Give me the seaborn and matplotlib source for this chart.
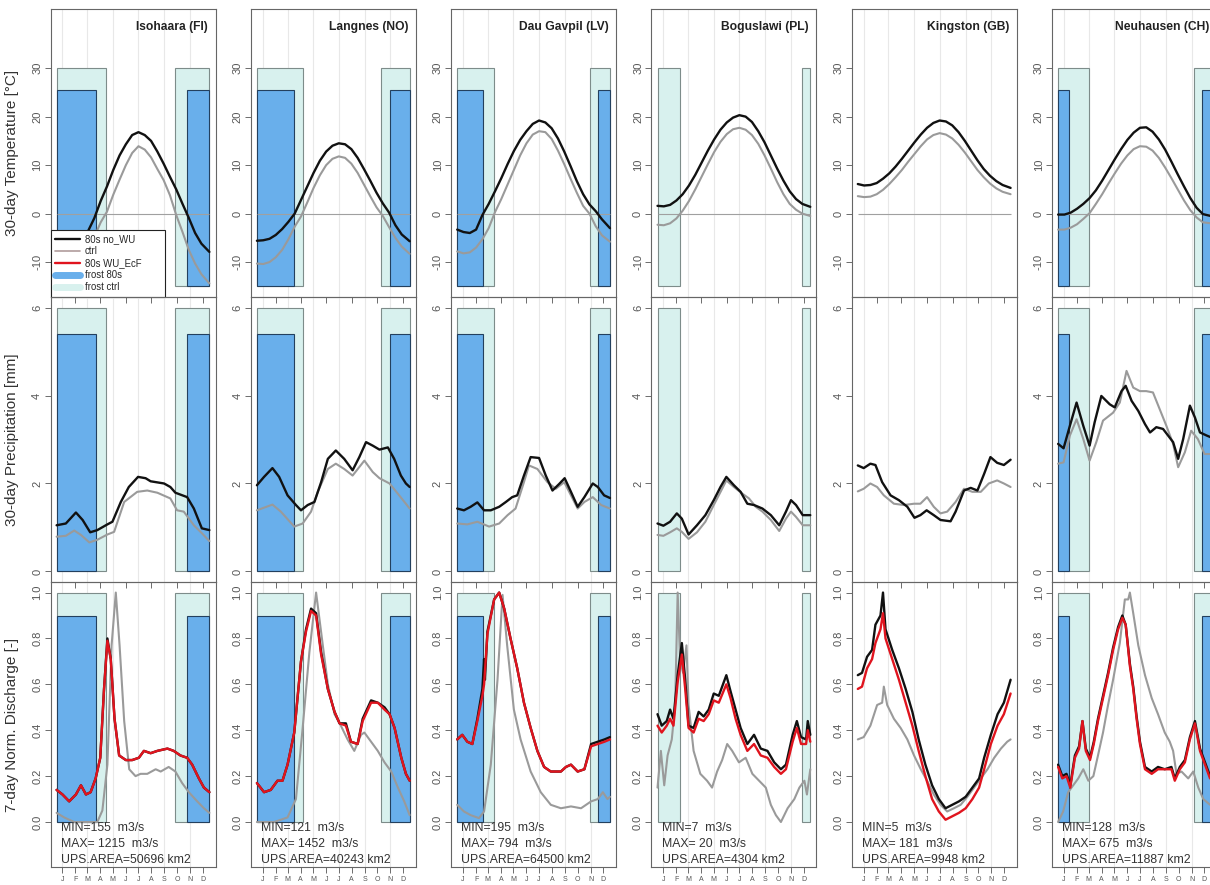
import numpy as np
import pandas as pd
import matplotlib
matplotlib.use('Agg')
import matplotlib.pyplot as plt
import seaborn as sns
from matplotlib.lines import Line2D

sns.set_style('white')
plt.rcParams['font.family'] = ['Liberation Sans', 'DejaVu Sans']

# ---- data ----
STATIONS = ['Isohaara (FI)', 'Langnes (NO)', 'Dau Gavpil (LV)',
            'Boguslawi (PL)', 'Kingston (GB)', 'Neuhausen (CH)']
Q_MIN = [155, 121, 195, 7, 5, 128]
Q_MAX = [1215, 1452, 794, 20, 181, 675]
UPS_AREA = [50696, 40243, 64500, 4304, 9948, 11887]

# frost periods: (end of winter frost, start of autumn frost) in day of year
FROST_CTRL = [(118, 284), (111, 297), (88, 317), (55, 346), None, (75, 324)]
FROST_80S = [(96, 312), (90, 318), (63, 336), None, None, (26, 345)]

MONTH_MID = [15, 46, 74, 105, 135, 166, 196, 227, 258, 288, 319, 349]
MONTH_LBL = ['J', 'F', 'M', 'A', 'M', 'J', 'J', 'A', 'S', 'O', 'N', 'D']
GRID_DAYS = [15, 74, 135, 196, 258, 319]

TEMP_DAYS = [1, 16, 31, 46, 61, 76, 91, 106, 121, 136, 151, 166, 181, 196,
             211, 226, 241, 256, 271, 286, 301, 316, 331, 346, 365]
TEMP_NOWU = [
    [-9.5, -10.5, -11.0, -10.5, -8.0, -3.6, -0.9, 2.6, 5.6, 9.0, 12.0, 14.3, 16.2, 16.8, 16.2, 15.0, 12.8, 10.3, 7.6, 5.0, 2.0, -0.9, -4.0, -6.2, -7.9],
    [-5.6, -5.5, -5.2, -4.4, -3.2, -1.7, 0.0, 2.8, 5.6, 8.4, 10.9, 12.8, 14.0, 14.5, 14.3, 13.3, 11.5, 9.2, 6.8, 4.3, 2.1, 0.2, -2.4, -4.3, -5.7],
    [-3.3, -3.8, -4.0, -3.3, -0.3, 2.0, 4.6, 7.3, 10.2, 12.9, 15.2, 17.0, 18.5, 19.2, 18.8, 17.6, 15.5, 12.8, 9.8, 6.7, 4.0, 1.9, 0.5, -1.2, -3.0],
    [1.6, 1.5, 1.8, 2.7, 4.0, 5.8, 8.0, 10.5, 13.0, 15.3, 17.3, 18.8, 19.8, 20.3, 20.0, 18.9, 17.0, 14.7, 12.0, 9.3, 6.8, 4.6, 3.0, 2.0, 1.4],
    [6.1, 5.8, 5.9, 6.3, 7.2, 8.3, 9.7, 11.3, 13.0, 14.7, 16.3, 17.7, 18.7, 19.2, 19.0, 18.2, 16.8, 15.0, 13.0, 11.0, 9.2, 7.8, 6.7, 5.9, 5.3],
    [-0.2, -0.2, 0.2, 1.0, 2.0, 3.2, 4.8, 6.8, 9.0, 11.2, 13.3, 15.2, 16.7, 17.7, 17.8, 16.9, 15.3, 13.2, 10.7, 8.1, 5.6, 3.2, 1.2, -0.1, -0.5],
]
TEMP_CTRL = [
    [-14.0, -15.0, -15.5, -14.5, -12.0, -8.5, -4.8, -1.8, 0.4, 3.9, 7.0, 10.0, 12.5, 13.9, 13.2, 11.6, 9.2, 6.9, 3.8, -0.3, -3.8, -7.5, -10.3, -12.5, -14.4],
    [-10.3, -10.4, -10.0, -9.0, -7.5, -5.3, -2.7, -0.6, 2.3, 5.3, 7.9, 10.0, 11.3, 11.8, 11.5, 10.3, 8.4, 6.0, 3.6, 1.3, -0.5, -2.8, -5.0, -6.8, -8.3],
    [-7.8, -8.2, -8.0, -7.0, -5.3, -3.0, 0.3, 3.0, 6.0, 9.0, 12.0, 14.5, 16.3, 17.0, 16.8, 15.4, 13.0, 10.2, 7.2, 4.3, 1.6, 0.0, -2.6, -4.5, -5.8],
    [-2.3, -2.4, -2.0, -1.0, 0.6, 2.6, 5.0, 7.6, 10.2, 12.7, 14.8, 16.4, 17.4, 17.7, 17.3, 16.2, 14.4, 12.0, 9.3, 6.5, 4.0, 2.0, 0.8, 0.0, -0.5],
    [3.6, 3.4, 3.5, 4.0, 4.9, 6.1, 7.5, 9.0, 10.7, 12.3, 13.9, 15.3, 16.2, 16.6, 16.3, 15.5, 14.2, 12.6, 10.8, 9.0, 7.5, 6.2, 5.2, 4.5, 4.0],
    [-3.3, -3.3, -2.9, -2.2, -1.1, 0.1, 2.0, 4.0, 6.2, 8.3, 10.3, 12.0, 13.3, 13.9, 13.8, 13.0, 11.5, 9.5, 7.3, 5.0, 2.7, 0.7, -0.8, -1.8, -2.0],
]

# precipitation (day, mm)
PREC_NOWU = [
    [(1, 1.05), (23, 1.09), (47, 1.34), (63, 1.17), (81, 0.89), (98, 0.94), (122, 1.07), (134, 1.13), (154, 1.58), (173, 1.92), (195, 2.15), (213, 2.12), (225, 2.05), (257, 2.0), (272, 1.92), (284, 1.79), (312, 1.69), (328, 1.43), (347, 0.98), (365, 0.94)],
    [(1, 1.96), (18, 2.15), (38, 2.35), (54, 2.15), (74, 1.73), (94, 1.51), (106, 1.39), (122, 1.51), (138, 1.58), (154, 2.03), (170, 2.56), (189, 2.75), (209, 2.56), (229, 2.3), (245, 2.6), (261, 2.94), (277, 2.86), (293, 2.77), (313, 2.82), (328, 2.56), (344, 2.18), (356, 2.0), (365, 1.92)],
    [(1, 1.43), (17, 1.39), (33, 1.47), (49, 1.57), (65, 1.39), (81, 1.39), (101, 1.47), (117, 1.58), (132, 1.69), (144, 1.73), (160, 2.18), (176, 2.6), (196, 2.58), (212, 2.18), (228, 1.84), (244, 1.99), (257, 2.12), (272, 1.81), (288, 1.47), (304, 1.69), (324, 2.0), (336, 1.92), (351, 1.73), (365, 1.67)],
    [(1, 1.09), (15, 1.04), (31, 1.13), (47, 1.32), (59, 1.2), (75, 0.84), (95, 1.05), (115, 1.28), (135, 1.62), (151, 1.92), (165, 2.15), (183, 1.96), (199, 1.81), (215, 1.54), (231, 1.51), (251, 1.43), (271, 1.28), (291, 1.05), (307, 1.36), (319, 1.62), (331, 1.51), (347, 1.28), (365, 1.28)],
    [(1, 2.41), (15, 2.35), (31, 2.45), (43, 2.42), (59, 2.03), (79, 1.73), (99, 1.62), (119, 1.47), (136, 1.22), (150, 1.28), (165, 1.39), (182, 1.28), (198, 1.17), (222, 1.14), (234, 1.36), (254, 1.84), (270, 1.9), (286, 1.84), (302, 2.22), (317, 2.6), (333, 2.47), (349, 2.42), (365, 2.54)],
    [(1, 2.9), (14, 2.8), (29, 3.31), (45, 3.84), (61, 3.31), (76, 2.86), (88, 3.39), (104, 3.99), (124, 3.8), (136, 3.73), (152, 4.1), (162, 4.22), (176, 3.88), (192, 3.65), (208, 3.35), (220, 3.16), (235, 3.28), (251, 3.24), (263, 3.09), (275, 2.94), (287, 2.56), (299, 3.01), (315, 3.77), (327, 3.5), (339, 3.16), (355, 3.09), (365, 3.05)],
]
PREC_CTRL = [
    [(1, 0.79), (23, 0.81), (43, 0.93), (59, 0.83), (79, 0.66), (98, 0.72), (122, 0.84), (138, 0.9), (162, 1.58), (193, 1.81), (217, 1.84), (241, 1.79), (272, 1.66), (288, 1.39), (304, 1.36), (328, 1.05), (347, 0.87), (365, 0.69)],
    [(1, 1.39), (18, 1.45), (38, 1.52), (58, 1.36), (90, 1.02), (110, 1.09), (130, 1.36), (146, 1.81), (170, 2.33), (189, 2.45), (209, 2.33), (229, 2.18), (257, 2.52), (277, 2.26), (293, 2.12), (317, 2.0), (340, 1.73), (365, 1.43)],
    [(1, 1.09), (25, 1.07), (49, 1.13), (77, 1.02), (101, 1.09), (121, 1.28), (140, 1.43), (160, 2.03), (172, 2.41), (192, 2.33), (216, 2.03), (236, 1.88), (256, 2.03), (272, 1.73), (288, 1.43), (304, 1.58), (324, 1.69), (344, 1.51), (365, 1.43)],
    [(1, 0.83), (15, 0.81), (31, 0.89), (47, 0.98), (59, 0.9), (75, 0.74), (95, 0.89), (115, 1.13), (135, 1.51), (155, 1.88), (165, 2.07), (183, 1.92), (203, 1.77), (219, 1.66), (235, 1.47), (251, 1.36), (271, 1.17), (291, 0.92), (307, 1.2), (319, 1.36), (331, 1.24), (347, 1.05), (365, 1.05)],
    [(1, 1.82), (15, 1.88), (31, 2.0), (47, 1.92), (63, 1.73), (87, 1.54), (111, 1.51), (135, 1.54), (150, 1.54), (166, 1.69), (182, 1.47), (198, 1.32), (214, 1.36), (234, 1.58), (254, 1.88), (274, 1.81), (294, 1.81), (313, 2.0), (333, 2.07), (349, 2.0), (365, 1.92)],
    [(1, 2.45), (14, 2.48), (29, 3.09), (45, 3.46), (61, 3.01), (76, 2.52), (92, 2.94), (108, 3.43), (132, 3.61), (148, 3.84), (164, 4.56), (180, 4.18), (196, 4.1), (211, 4.1), (227, 4.07), (243, 3.69), (259, 3.31), (275, 2.9), (287, 2.37), (303, 2.71), (318, 3.2), (334, 3.01), (350, 2.67), (365, 2.67)],
]

# normalised 7-day discharge (day, value)
DIS_NOWU = [
    [(1, 0.14), (15, 0.12), (31, 0.09), (47, 0.12), (59, 0.16), (71, 0.12), (82, 0.13), (94, 0.19), (105, 0.28), (114, 0.58), (122, 0.80), (130, 0.71), (139, 0.45), (150, 0.29), (166, 0.27), (181, 0.27), (197, 0.28), (209, 0.31), (225, 0.30), (241, 0.31), (265, 0.32), (280, 0.31), (296, 0.29), (312, 0.28), (324, 0.25), (340, 0.19), (352, 0.15), (365, 0.13)],
    [(1, 0.17), (18, 0.13), (34, 0.14), (50, 0.18), (62, 0.18), (74, 0.25), (90, 0.39), (106, 0.70), (118, 0.84), (130, 0.93), (142, 0.91), (154, 0.74), (170, 0.58), (186, 0.48), (198, 0.43), (213, 0.43), (225, 0.35), (241, 0.34), (253, 0.45), (273, 0.53), (289, 0.52), (305, 0.50), (317, 0.47), (329, 0.41), (345, 0.28), (356, 0.21), (365, 0.18)],
    [(1, 0.36), (13, 0.38), (25, 0.35), (37, 0.34), (49, 0.45), (61, 0.58), (65, 0.71), (67, 0.62), (73, 0.83), (89, 0.97), (101, 1.0), (113, 0.93), (128, 0.80), (144, 0.67), (160, 0.52), (176, 0.41), (192, 0.31), (208, 0.24), (224, 0.22), (248, 0.22), (260, 0.24), (272, 0.25), (288, 0.22), (304, 0.23), (320, 0.34), (336, 0.35), (352, 0.36), (365, 0.37)],
    [(1, 0.47), (11, 0.42), (23, 0.44), (31, 0.49), (39, 0.45), (49, 0.64), (59, 0.78), (67, 0.62), (75, 0.42), (87, 0.41), (99, 0.48), (111, 0.46), (123, 0.49), (135, 0.56), (147, 0.55), (165, 0.64), (175, 0.57), (187, 0.49), (199, 0.41), (215, 0.34), (231, 0.38), (247, 0.32), (263, 0.31), (279, 0.26), (295, 0.23), (307, 0.25), (323, 0.38), (333, 0.44), (343, 0.37), (355, 0.36), (359, 0.44), (365, 0.38)],
    [(1, 0.64), (11, 0.65), (23, 0.72), (35, 0.75), (43, 0.86), (55, 0.90), (61, 1.0), (67, 0.84), (83, 0.75), (99, 0.67), (115, 0.58), (131, 0.48), (146, 0.36), (162, 0.25), (178, 0.16), (194, 0.10), (210, 0.06), (226, 0.075), (242, 0.09), (258, 0.11), (274, 0.15), (290, 0.19), (302, 0.28), (318, 0.38), (334, 0.47), (349, 0.52), (365, 0.62)],
    [(1, 0.25), (11, 0.20), (21, 0.21), (30, 0.16), (41, 0.29), (51, 0.33), (59, 0.44), (67, 0.32), (77, 0.28), (86, 0.35), (96, 0.45), (108, 0.55), (120, 0.65), (132, 0.76), (144, 0.85), (154, 0.90), (162, 0.86), (172, 0.69), (180, 0.59), (188, 0.46), (196, 0.35), (208, 0.24), (224, 0.22), (239, 0.24), (255, 0.23), (271, 0.24), (279, 0.19), (291, 0.24), (303, 0.27), (315, 0.37), (327, 0.44), (339, 0.32), (351, 0.26), (363, 0.20)],
]
DIS_WU = [
    [(1, 0.14), (15, 0.12), (31, 0.09), (47, 0.12), (59, 0.16), (71, 0.12), (82, 0.13), (94, 0.19), (105, 0.28), (114, 0.58), (122, 0.79), (130, 0.71), (139, 0.45), (150, 0.29), (166, 0.27), (181, 0.27), (197, 0.28), (209, 0.31), (225, 0.30), (241, 0.31), (265, 0.32), (280, 0.31), (296, 0.29), (312, 0.28), (324, 0.25), (340, 0.19), (352, 0.15), (365, 0.13)],
    [(1, 0.17), (18, 0.13), (34, 0.14), (50, 0.18), (62, 0.18), (74, 0.25), (90, 0.39), (106, 0.70), (118, 0.83), (130, 0.92), (142, 0.90), (154, 0.73), (170, 0.58), (186, 0.48), (198, 0.43), (213, 0.42), (225, 0.35), (241, 0.34), (253, 0.44), (273, 0.52), (289, 0.52), (305, 0.49), (317, 0.47), (329, 0.41), (345, 0.28), (356, 0.21), (365, 0.18)],
    [(1, 0.36), (13, 0.38), (25, 0.35), (37, 0.34), (49, 0.44), (61, 0.55), (65, 0.60), (73, 0.82), (89, 0.97), (101, 1.0), (113, 0.93), (128, 0.80), (144, 0.67), (160, 0.52), (176, 0.41), (192, 0.31), (208, 0.24), (224, 0.22), (248, 0.22), (260, 0.24), (272, 0.25), (288, 0.22), (304, 0.23), (320, 0.33), (336, 0.34), (352, 0.35), (365, 0.36)],
    [(1, 0.42), (11, 0.39), (23, 0.42), (31, 0.45), (39, 0.42), (49, 0.61), (59, 0.73), (67, 0.58), (75, 0.41), (87, 0.39), (99, 0.45), (111, 0.44), (123, 0.47), (135, 0.53), (147, 0.52), (165, 0.60), (175, 0.54), (187, 0.45), (199, 0.38), (215, 0.31), (231, 0.34), (247, 0.29), (263, 0.28), (279, 0.24), (295, 0.21), (307, 0.23), (323, 0.35), (333, 0.41), (343, 0.34), (355, 0.34), (359, 0.40), (365, 0.35)],
    [(1, 0.58), (11, 0.59), (23, 0.67), (35, 0.71), (43, 0.78), (55, 0.84), (61, 0.91), (67, 0.80), (83, 0.71), (99, 0.62), (115, 0.52), (131, 0.42), (146, 0.31), (162, 0.20), (178, 0.10), (194, 0.046), (210, 0.01), (226, 0.025), (242, 0.04), (258, 0.06), (274, 0.10), (290, 0.15), (302, 0.23), (318, 0.34), (334, 0.42), (349, 0.47), (365, 0.56)],
    [(1, 0.24), (11, 0.19), (21, 0.20), (30, 0.15), (41, 0.28), (51, 0.32), (59, 0.44), (67, 0.31), (77, 0.27), (86, 0.34), (96, 0.44), (108, 0.54), (120, 0.64), (132, 0.75), (144, 0.84), (154, 0.89), (162, 0.86), (172, 0.68), (180, 0.58), (188, 0.45), (196, 0.34), (208, 0.23), (224, 0.21), (239, 0.23), (255, 0.23), (271, 0.23), (279, 0.18), (291, 0.23), (303, 0.26), (315, 0.36), (327, 0.43), (339, 0.31), (351, 0.25), (363, 0.19)],
]
DIS_CTRL = [
    [(1, 0.04), (19, 0.02), (43, 0.0), (75, 0.0), (98, 0.0), (110, 0.05), (122, 0.25), (132, 0.77), (142, 1.0), (151, 0.77), (162, 0.44), (174, 0.23), (189, 0.20), (201, 0.21), (217, 0.21), (237, 0.23), (249, 0.22), (268, 0.24), (284, 0.22), (300, 0.17), (316, 0.13), (336, 0.09), (352, 0.06), (365, 0.04)],
    [(1, 0.0), (42, 0.0), (74, 0.02), (94, 0.10), (110, 0.41), (126, 0.74), (142, 1.0), (158, 0.77), (170, 0.60), (186, 0.47), (201, 0.42), (217, 0.36), (233, 0.31), (249, 0.38), (257, 0.39), (273, 0.35), (289, 0.31), (305, 0.26), (321, 0.22), (337, 0.15), (352, 0.09), (365, 0.03)],
    [(1, 0.075), (17, 0.046), (33, 0.03), (53, 0.017), (65, 0.046), (81, 0.25), (97, 0.62), (109, 0.99), (120, 0.77), (136, 0.49), (152, 0.36), (176, 0.22), (200, 0.13), (224, 0.075), (248, 0.06), (272, 0.068), (296, 0.06), (320, 0.09), (336, 0.10), (348, 0.13), (359, 0.10), (365, 0.11)],
    [(1, 0.15), (9, 0.31), (17, 0.16), (25, 0.29), (35, 0.36), (43, 0.51), (49, 1.0), (55, 0.70), (62, 0.65), (70, 0.77), (75, 0.51), (87, 0.31), (103, 0.21), (119, 0.18), (131, 0.15), (143, 0.22), (155, 0.27), (167, 0.34), (179, 0.31), (195, 0.26), (211, 0.28), (227, 0.21), (243, 0.18), (259, 0.15), (271, 0.075), (283, 0.03), (295, 0.0), (311, 0.06), (327, 0.10), (339, 0.15), (351, 0.18), (357, 0.12), (365, 0.23)],
    [(1, 0.36), (15, 0.37), (31, 0.42), (47, 0.51), (59, 0.52), (63, 0.59), (71, 0.51), (87, 0.45), (103, 0.41), (119, 0.36), (135, 0.29), (151, 0.23), (166, 0.18), (182, 0.12), (198, 0.075), (214, 0.046), (230, 0.06), (246, 0.075), (262, 0.11), (278, 0.15), (294, 0.19), (310, 0.23), (326, 0.28), (342, 0.32), (357, 0.35), (365, 0.36)],
    [(1, 0.0), (13, 0.046), (25, 0.13), (37, 0.16), (49, 0.19), (61, 0.23), (73, 0.18), (85, 0.20), (96, 0.29), (108, 0.39), (120, 0.51), (132, 0.62), (148, 0.78), (160, 0.97), (168, 0.97), (172, 1.0), (180, 0.91), (192, 0.77), (208, 0.64), (224, 0.54), (239, 0.47), (255, 0.39), (267, 0.35), (275, 0.31), (283, 0.21), (295, 0.22), (311, 0.19), (323, 0.22), (335, 0.15), (347, 0.10), (363, 0.075)],
]

# ---- styling ----
C_NOWU = '#111111'
C_CTRL = '#9a9a9a'
C_WU = '#e0141e'
C_FROST80 = '#69afeb'
C_FROSTCTRL = '#d8f1ee'
TICK_C = '#555555'

ROWS = [
    dict(ylabel='30-day Temperature [\u00b0C]', ylim=(-17.2, 42.2), yticks=[-10, 0, 10, 20, 30],
         fmt='{:g}', bottom=-15, top_ctrl=30, top_80=25.5),
    dict(ylabel='30-day Precipitation [mm]', ylim=(-0.24, 6.24), yticks=[0, 2, 4, 6],
         fmt='{:g}', bottom=0, top_ctrl=6, top_80=5.4),
    dict(ylabel='7-day Norm. Discharge [-]', ylim=(-0.196, 1.046), yticks=[0, 0.2, 0.4, 0.6, 0.8, 1.0],
         fmt='{:.1f}', bottom=0, top_ctrl=1.0, top_80=0.9),
]

W, H = 1210, 885
fig = plt.figure(figsize=(W / 100, H / 100), dpi=100)
fig.patch.set_facecolor('white')

COL_LEFT = [50.5, 250.8, 451.1, 651.4, 851.7, 1052.0]
PANEL_W = 165.0
ROW_TOP = [9, 297, 582]
ROW_BOT = [297, 582, 867]


def draw_line(ax, x, y, color, lw, z):
    sns.lineplot(x=x, y=y, ax=ax, color=color, lw=lw, estimator=None,
                 sort=False, legend=False, zorder=z)


def frost_boxes(ax, period, bottom, top, fc, ec, z):
    if period is None:
        return
    end1, start2 = period
    ax.bar([1, start2], [top - bottom] * 2, width=[end1 - 1, 365 - start2],
           bottom=bottom, align='edge', color=fc, edgecolor=ec, lw=0.8, zorder=z)


for r in range(3):
    cfg = ROWS[r]
    for c in range(6):
        t, b = ROW_TOP[r], ROW_BOT[r]
        ax = fig.add_axes([COL_LEFT[c] / W, 1 - b / H, PANEL_W / W, (b - t) / H])
        ax.set_facecolor('none')
        ax.set_xlim(1 - 14.56, 365 + 14.56)
        ax.set_ylim(*cfg['ylim'])

        for d in GRID_DAYS:
            ax.axvline(d, color='#e8e8e8', lw=0.8, zorder=0)

        frost_boxes(ax, FROST_CTRL[c], cfg['bottom'], cfg['top_ctrl'], C_FROSTCTRL, '#7d8c8a', 1)
        frost_boxes(ax, FROST_80S[c], cfg['bottom'], cfg['top_80'], C_FROST80, '#23405e', 2)

        if r == 0:
            ax.hlines(0, 1, 365, color='#a0a0a0', lw=0.8, zorder=3)
            draw_line(ax, TEMP_DAYS, TEMP_CTRL[c], C_CTRL, 1.5, 4)
            draw_line(ax, TEMP_DAYS, TEMP_NOWU[c], C_NOWU, 1.7, 5)
            ax.text(0.955, 0.937, STATIONS[c], transform=ax.transAxes, ha='right', va='center',
                    fontsize=8.7, fontweight='bold', color='#222222')
        elif r == 1:
            pc = pd.DataFrame(PREC_CTRL[c], columns=['day', 'val'])
            pn = pd.DataFrame(PREC_NOWU[c], columns=['day', 'val'])
            draw_line(ax, pc['day'], pc['val'], C_CTRL, 1.5, 4)
            draw_line(ax, pn['day'], pn['val'], C_NOWU, 1.7, 5)
        else:
            dc = pd.DataFrame(DIS_CTRL[c], columns=['day', 'val'])
            dn = pd.DataFrame(DIS_NOWU[c], columns=['day', 'val'])
            dw = pd.DataFrame(DIS_WU[c], columns=['day', 'val'])
            draw_line(ax, dc['day'], dc['val'], C_CTRL, 1.5, 4)
            draw_line(ax, dn['day'], dn['val'], C_NOWU, 1.7, 5)
            draw_line(ax, dw['day'], dw['val'], C_WU, 1.7, 6)
            txt = [f'MIN={Q_MIN[c]}  m3/s', f'MAX= {Q_MAX[c]}  m3/s', f'UPS.AREA={UPS_AREA[c]} km2']
            for k, s in enumerate(txt):
                ax.text(0.062, 0.137 - 0.057 * k, s, transform=ax.transAxes, ha='left',
                        va='center', fontsize=8.8, color='#333333', zorder=7)

        ax.set_xticks(MONTH_MID)
        ax.set_xticklabels(MONTH_LBL if r == 2 else [])
        ax.set_yticks(cfg['yticks'])
        ax.set_yticklabels([cfg['fmt'].format(v) for v in cfg['yticks']], rotation=90, va='center')
        ax.tick_params(axis='both', direction='out', length=4, width=0.6, color=TICK_C,
                       labelcolor='#555555', left=True, bottom=True)
        ax.tick_params(axis='x', labelsize=5, pad=2.5)
        ax.tick_params(axis='y', labelsize=8, pad=2)
        ax.set_xlabel('')
        ax.set_ylabel('')
        for sp in ax.spines.values():
            sp.set_color('#666666')
            sp.set_linewidth(0.8)

        if c == 0:
            ax.set_ylabel(cfg['ylabel'], fontsize=11, color='#333333')
            ax.yaxis.set_label_coords(-0.19, 0.5)

        if r == 0 and c == 0:
            handles = [Line2D([], [], color=C_NOWU, lw=1.7),
                       Line2D([], [], color='#b09c9c', lw=1.2),
                       Line2D([], [], color=C_WU, lw=1.7),
                       Line2D([], [], color=C_FROST80, lw=5),
                       Line2D([], [], color=C_FROSTCTRL, lw=5)]
            labels = ['80s no_WU', 'ctrl', '80s WU_EcF', 'frost 80s', 'frost ctrl']
            leg = ax.legend(handles, labels, loc='lower left', bbox_to_anchor=(0, 0, 0.694, 0.23),
                            mode='expand', borderaxespad=0, fontsize=6.9, frameon=True,
                            fancybox=False, framealpha=1, edgecolor='#222222',
                            handlelength=2.6, handletextpad=0.5, labelspacing=0.2,
                            borderpad=0.5)
            leg.get_frame().set_linewidth(0.8)
            leg.set_zorder(10)

fig.savefig('out.png', dpi=100)
